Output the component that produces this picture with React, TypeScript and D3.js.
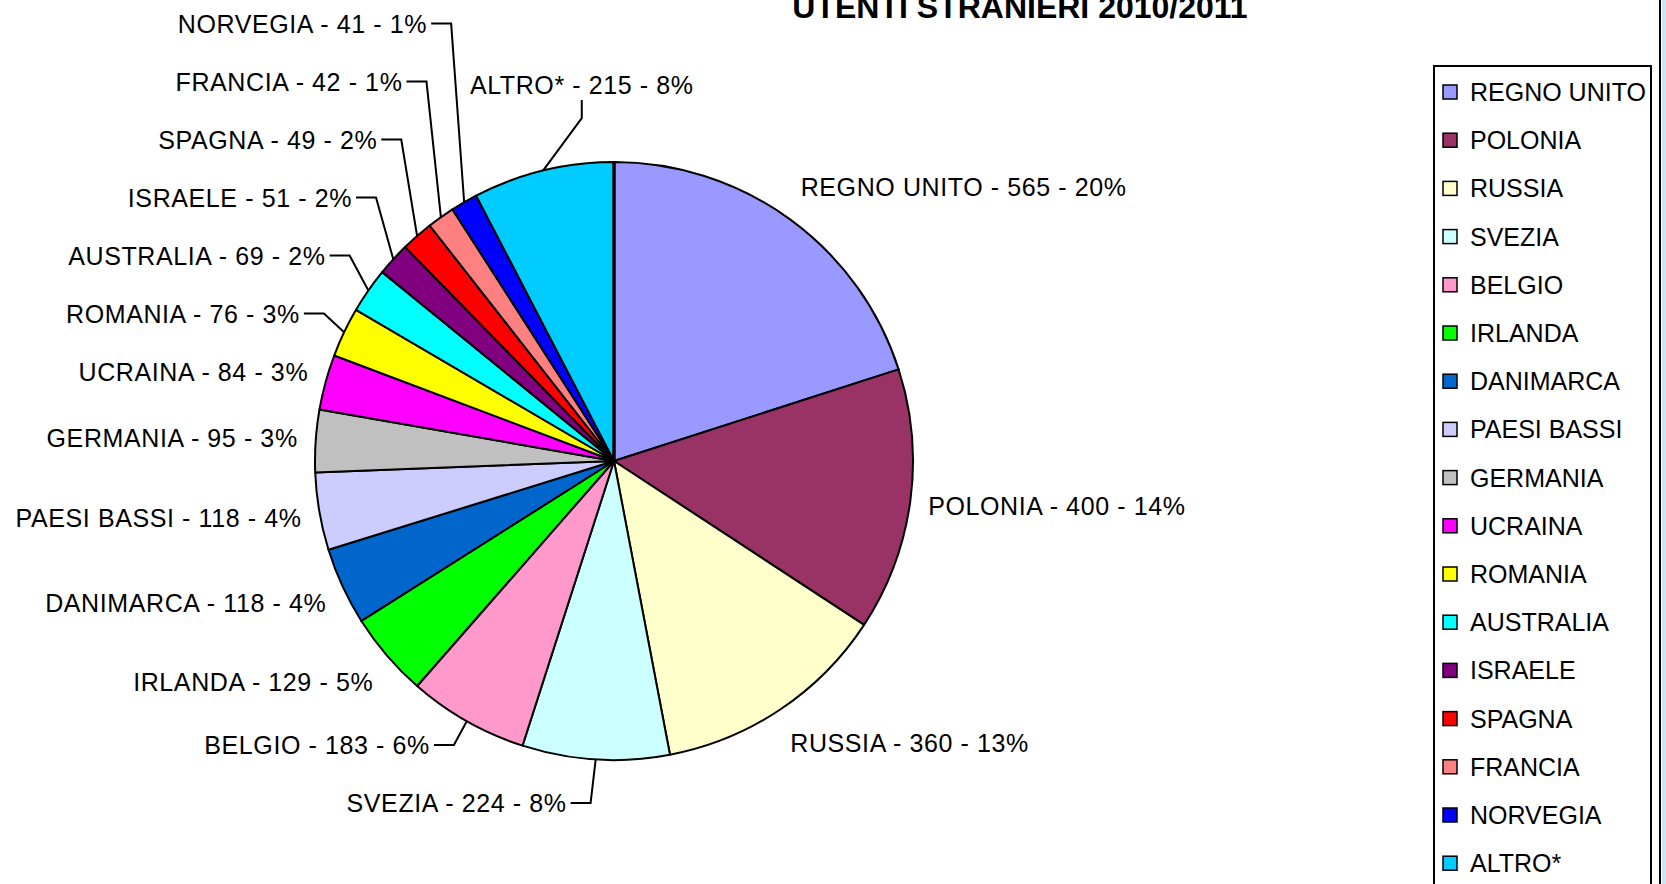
import React from "react";
import * as d3 from "d3";

const countries = [
  "REGNO UNITO", "POLONIA", "RUSSIA", "SVEZIA", "BELGIO", "IRLANDA",
  "DANIMARCA", "PAESI BASSI", "GERMANIA", "UCRAINA", "ROMANIA",
  "AUSTRALIA", "ISRAELE", "SPAGNA", "FRANCIA", "NORVEGIA", "ALTRO*",
];
const users = [565, 400, 360, 224, 183, 129, 118, 118, 95, 84, 76, 69, 51, 49, 42, 41, 215];
const colors = [
  "#9999FF", "#993366", "#FFFFCC", "#CCFFFF", "#FF99CC", "#00FF00",
  "#0066CC", "#CCCCFF", "#C0C0C0", "#FF00FF", "#FFFF00", "#00FFFF",
  "#800080", "#FF0000", "#FF8080", "#0000FF", "#00CCFF",
];
const title = "UTENTI STRANIERI 2010/2011";

const W = 1666;
const H = 884;
const FONT = "'Liberation Sans', Arial, sans-serif";

type Label = {
  text: string;
  x: number;
  y: number;
  anchor: "start" | "end" | "middle";
  leader: [number, number][] | null;
};

const App = () => {
  const cx = 614;
  const cy = 461;
  const r = 299;
  const gap = 18; // label distance outside the rim
  const row = 58; // min vertical distance between stacked labels

  const data = countries.map((name, i) => ({ name, value: users[i], color: colors[i] }));
  const total = d3.sum(users);

  const pie = d3.pie<any>().sort(null).value((d) => d.value);
  const arcs = pie(data);
  const arc = d3.arc<any>().innerRadius(0).outerRadius(r);

  // label layout, roughly like excel's "best fit"
  const labels: Label[] = [];
  const left: { i: number; a: number; y: number; px: number; ax: number; ay: number; moved: boolean }[] = [];
  arcs.forEach((d, i) => {
    const a = (d.startAngle + d.endAngle) / 2;
    const sx = Math.sin(a);
    const sy = -Math.cos(a);
    const ax = cx + r * sx;
    const ay = cy + r * sy;
    const px = cx + (r + gap) * sx;
    const py = cy + (r + gap) * sy;
    const pct = Math.round((d.data.value / total) * 100);
    const text = `${d.data.name} - ${d.data.value} - ${pct}%`;
    const y = py + 22 * sy;
    const fromTop = Math.min(a, 2 * Math.PI - a);
    if (fromTop < (20 * Math.PI) / 180) {
      // label sitting above the slice, lifted clear of the left stack
      const lx = px + 43;
      const ly = py - 68;
      labels[i] = {
        text, x: lx, y: ly, anchor: "middle",
        leader: [[lx, ly + 15], [lx, ly + 33], [ax, ay]],
      };
    } else if (sx >= 0) {
      labels[i] = { text, x: px, y, anchor: "start", leader: null };
    } else {
      left.push({ i, a, y, px, ax, ay, moved: false });
      labels[i] = { text, x: px, y, anchor: "end", leader: null };
    }
  });

  // stack left side labels from the bottom upwards
  left.sort((p, q) => p.a - q.a);
  for (let k = 1; k < left.length; k++) {
    const lo = left[k - 1];
    const cur = left[k];
    const deficit = cur.y - (lo.y - row);
    if (deficit > 0) {
      if (k === 1) {
        lo.y += deficit * 0.25;
        lo.moved = true;
        cur.y -= deficit * 0.75;
      } else {
        cur.y -= deficit;
      }
      cur.moved = true;
    }
  }
  left.forEach((p) => {
    const lab = labels[p.i];
    lab.y = p.y;
    if (p.moved) {
      lab.x = p.px - 28;
      lab.leader = [[lab.x + 4, p.y], [p.px - 4, p.y], [p.ax, p.ay]];
    }
  });

  const legendY = d3
    .scalePoint<string>()
    .domain(countries)
    .range([92, 92 + 48.2 * (countries.length - 1)]);

  const topAngle = arcs[0].startAngle;

  return (
    <svg
      width={W}
      height={H}
      style={{ position: "absolute", left: 0, top: 0, display: "block", background: "#fff" }}
      fontFamily={FONT}
    >
      <rect x={0} y={0} width={W} height={H} fill="#fff" />
      <text x={1020} y={18} textAnchor="middle" fontSize={32} fontWeight="bold" fill="#000">
        {title}
      </text>

      <g transform={`translate(${cx},${cy})`}>
        {arcs.map((d, i) => (
          <path key={i} d={arc(d) as string} fill={d.data.color} stroke="#000" strokeWidth={2} strokeLinejoin="round" />
        ))}
        <line
          x1={0}
          y1={0}
          x2={r * Math.sin(topAngle)}
          y2={-r * Math.cos(topAngle)}
          stroke="#000"
          strokeWidth={3.5}
        />
      </g>

      {labels.map((l, i) => (
        <g key={i}>
          {l.leader && (
            <polyline
              points={l.leader.map((p) => p.join(",")).join(" ")}
              fill="none"
              stroke="#000"
              strokeWidth={2}
            />
          )}
          <text
            x={l.x}
            y={l.y + 9}
            textAnchor={l.anchor}
            fontSize={25}
            letterSpacing={0.6}
            fill="#000"
          >
            {l.text}
          </text>
        </g>
      ))}

      {/* legend */}
      <rect x={1434} y={66} width={217} height={840} fill="#fff" stroke="#000" strokeWidth={2} />
      {countries.map((c, i) => (
        <g key={c} transform={`translate(0,${legendY(c)})`}>
          <rect x={1443} y={-7} width={14} height={14} fill={colors[i]} stroke="#000" strokeWidth={1.5} />
          <text x={1470} y={9} fontSize={25} fill="#000">
            {c}
          </text>
        </g>
      ))}

      {/* chart area border on the right */}
      <rect x={1662} y={0} width={4} height={H} fill="#cde6f7" />
      <line x1={1660} y1={0} x2={1660} y2={H} stroke="#000" strokeWidth={2} />
    </svg>
  );
};

export default App;
